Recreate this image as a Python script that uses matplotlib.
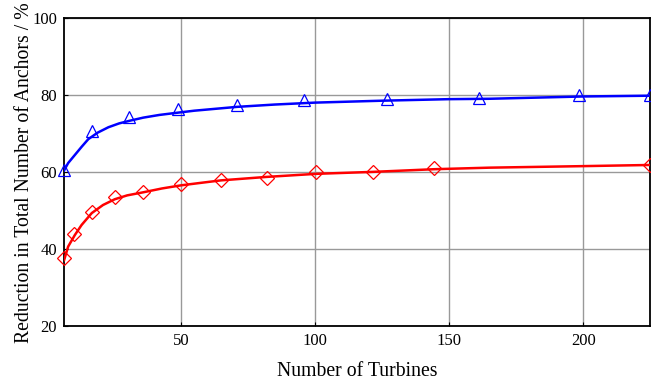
import matplotlib
matplotlib.use("Agg")
import matplotlib.pyplot as plt

plt.rcParams['font.family'] = ['Liberation Serif', 'DejaVu Serif']

# Marker data
blue_x = [6.5, 17, 30.5, 49, 71, 96, 127, 161, 198.5, 225]
blue_y = [60.6, 70.7, 74.4, 76.4, 77.5, 78.7, 79.0, 79.4, 80.1, 80.1]

red_x = [6.5, 10, 17, 25.5, 36, 50, 65, 82, 100.5, 121.5, 144.5, 225]
red_y = [37.7, 44.0, 49.8, 53.5, 55.0, 57.0, 58.0, 58.6, 60.0, 60.0, 61.2, 61.9]

# Fitted curves
blue_curve_x = [6.5, 8, 10.5, 13, 15.5, 19, 23, 27, 31, 36, 42, 49, 55, 63, 71, 85, 100, 110, 125, 150, 165, 200, 225]
blue_curve_y = [60.5, 62.4, 64.5, 66.6, 68.6, 70.3, 71.7, 72.7, 73.4, 74.2, 74.9, 75.5, 76.0, 76.5, 77.0, 77.6, 78.1, 78.3, 78.6, 79.0, 79.1, 79.7, 79.9]

red_curve_x = [6.5, 8, 10.5, 13, 16.8, 21, 25.4, 30, 36, 43, 50, 58, 65, 82, 100.6, 121.4, 144.5, 165, 200, 225]
red_curve_y = [37.2, 40.7, 43.7, 46.3, 49.4, 51.5, 53.0, 54.0, 54.8, 55.8, 56.6, 57.3, 57.9, 58.8, 59.6, 60.1, 60.8, 61.2, 61.6, 61.9]

fig = plt.figure(figsize=(6.51, 3.82), dpi=100)
ax = fig.add_axes([0.0985, 0.146, 0.9005, 0.806])

# Curves
ax.plot(blue_curve_x, blue_curve_y, color='#0000ff', lw=1.8, zorder=3)
ax.plot(red_curve_x, red_curve_y, color='#ff0000', lw=1.8, zorder=3)

# Markers
ax.plot(blue_x, blue_y, linestyle='none', marker='^', ms=8, mfc='none',
        mec='#0000ff', mew=0.9, clip_on=False, zorder=4)
ax.plot(red_x, red_y, linestyle='none', marker='D', ms=7, mfc='none',
        mec='#ff0000', mew=0.9, clip_on=False, zorder=4)

ax.set_xlim(6.5, 225)
ax.set_ylim(20, 100)
ax.set_xticks([50, 100, 150, 200])
ax.set_yticks([20, 40, 60, 80, 100])
ax.grid(True, color='#999999', lw=1)
ax.tick_params(direction='in', length=3, labelsize=12, colors='black', pad=5)
for s in ax.spines.values():
    s.set_linewidth(1.3)

ax.set_xlabel('Number of Turbines', fontsize=14.2, labelpad=9)
ax.set_ylabel('Reduction in Total Number of Anchors / %', fontsize=14.2, labelpad=-1)

fig.savefig('out.png', dpi=100)
